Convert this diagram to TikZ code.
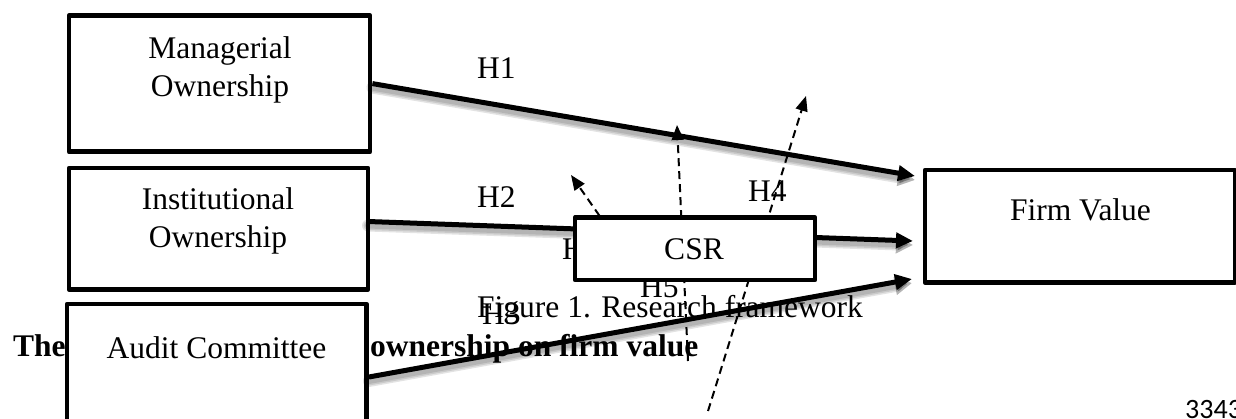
\documentclass[tikz,border=0pt]{standalone}
\usepackage{fontspec}
\setmainfont{Liberation Serif}
\newfontfamily\pagefont{Carlito}
\usetikzlibrary{arrows.meta}

\tikzset{
  box/.style={draw, line width=4.8pt, fill=white, line join=round, inner sep=0pt},
  txt/.style={inner sep=0pt, anchor=base west, font=\fontsize{31.5}{37.5}\selectfont},
  ctxt/.style={txt, anchor=base},
  bold/.style={txt, font=\fontsize{31.5}{37.5}\selectfont\bfseries},
  effect/.style={line width=5pt, -{Triangle[length=17pt,width=15pt]}},
  glow/.style={line width=#1, opacity=.11, line cap=round,
    -{Triangle[length=17pt,width=17pt]}, transform canvas={yshift=-4pt}},
  moder/.style={line width=2pt, dash pattern=on 8pt off 5pt,
    -{Triangle[length=15pt,width=12pt]}},
}

\begin{document}
\begin{tikzpicture}[x=1pt,y=-1pt]
\useasboundingbox (0,0) rectangle (1236,419);
\clip (0,0) rectangle (1236,419);

% running heading, caption and page number
\node[bold] (hd1) at (13,356) {The};
\node[bold] (hd2) at (370,356) {ownership on firm value};
\node[txt] (cap) at (477,318) {Figure 1. Research framework};
\node[txt, font=\pagefont\fontsize{28}{30}\selectfont] (pg) at (1185,418) {3343};

% hypothesis labels
\node[txt] (h1) at (477,79) {H1};
\node[txt] (h2) at (477,208) {H2};
\node[txt] (h4) at (748,202) {H4};
\node[txt] (h6) at (562,260) {H};
\node[txt] (h5) at (640,298) {H5};
\node[txt] (h3) at (482,325) {H3};

% independent variables
\node[box, minimum width=301pt, minimum height=136pt] (mo) at (219.5,83.6) {};
\node[ctxt] (mo1) at (220,59) {Managerial};
\node[ctxt] (mo2) at (220,96.5) {Ownership};

\node[box, minimum width=299pt, minimum height=121.5pt] (io) at (218.5,228.75) {};
\node[ctxt] (io1) at (218,210) {Institutional};
\node[ctxt] (io2) at (218,248) {Ownership};

\node[box, minimum width=299.5pt, minimum height=146pt] (ac) at (216.75,377) {};
\node[ctxt] (ac1) at (216.5,358) {Audit Committee};

% connector ends
\coordinate (s2) at (368,221.5);
\coordinate (t1) at (915,176);
\coordinate (t2) at (913,241);
\coordinate (t3) at (912,279);
\coordinate (m1a) at (622,248);
\coordinate (m1b) at (571,175);
\coordinate (m2a) at (688,361);
\coordinate (m2b) at (677,125);
\coordinate (m3a) at (708,411);
\coordinate (m3b) at (806,96);

% soft shadows under the direct effects
\foreach \w in {12pt,9pt,6pt}{
  \draw[glow=\w] (mo.east) -- (t1);
  \draw[glow=\w] (s2) -- (t2);
  \draw[glow=\w] (ac.east) -- (t3);
}

% direct effects
\draw[effect] (mo.east) -- (t1);
\draw[effect] (s2) -- (t2);
\draw[effect] (ac.east) -- (t3);

% moderating effects of CSR
\draw[moder] (m1a) -- (m1b);
\draw[moder] (m2a) -- (m2b);
\draw[moder] (m3a) -- (m3b);

% moderator and dependent variable
\node[box, minimum width=240pt, minimum height=62.5pt] (csr) at (695,248.75) {};
\node[ctxt] (csr1) at (694,260) {CSR};

\node[box, minimum width=310pt, minimum height=112.5pt] (fv) at (1080,226.25) {};
\node[ctxt] (fv1) at (1080.5,220.5) {Firm Value};
\end{tikzpicture}
\end{document}
